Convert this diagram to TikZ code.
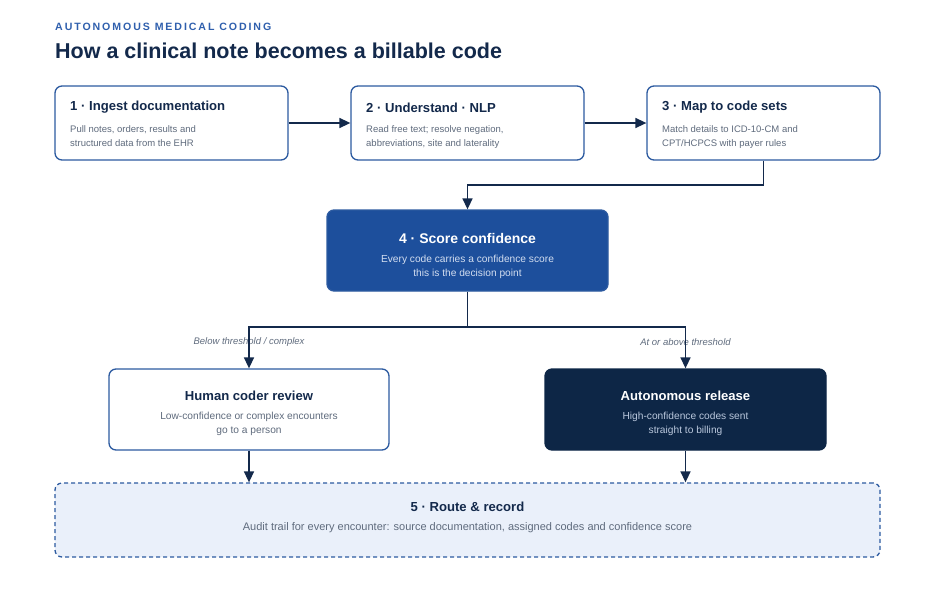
\documentclass[tikz,border=0pt]{standalone}
\usepackage{fontspec}
\setmainfont{Liberation Sans}
\newfontfamily\spacedfont[LetterSpace=18]{Liberation Sans}
\usetikzlibrary{arrows.meta}
\definecolor{bordercol}{HTML}{2C5AA0}
\definecolor{navy}{HTML}{13294B}
\definecolor{descgray}{HTML}{5F6B7D}
\definecolor{kickerblue}{HTML}{2F5FAD}
\definecolor{scorefill}{HTML}{1D4F9C}
\definecolor{scoredesc}{HTML}{D3DEF0}
\definecolor{autofill}{HTML}{0D2646}
\definecolor{autodesc}{HTML}{BAC8DD}
\definecolor{recfill}{HTML}{EAF0FA}
\begin{document}
\begin{tikzpicture}[x=1pt,y=-1pt,
  box/.style={draw=bordercol, line width=1.3pt, rounded corners=7pt, fill=white, inner sep=0pt},
  boxtitle/.style={inner sep=0pt, text=navy, font=\fontsize{13.1}{15}\selectfont\bfseries},
  boxdesc/.style={inner sep=0pt, text=descgray, font=\fontsize{9.5}{14}\selectfont},
  cdesc/.style={inner sep=0pt, text=descgray, font=\fontsize{10.2}{14.5}\selectfont},
  flow/.style={draw=navy, line width=1.5pt, -{Triangle[length=11pt,width=10pt]}},
  plainline/.style={draw=navy, line width=1.5pt},
  branchlabel/.style={inner sep=0pt, text=descgray, font=\fontsize{9.5}{11}\selectfont\itshape}]
\useasboundingbox (0,0) rectangle (936,592);
% headings
\node[anchor=west, inner sep=0pt, text=kickerblue, font=\fontsize{10.6}{12}\spacedfont\bfseries] (kicker) at (55,27) {AUTONOMOUS MEDICAL CODING};
\node[anchor=west, inner sep=0pt, text=navy, font=\fontsize{21.5}{24}\selectfont\bfseries] (headline) at (55,50.5) {How a clinical note becomes a billable code};
% top row
\node[box, minimum width=233pt, minimum height=74pt] (b1) at (171.5,123) {};
\node[box, minimum width=233pt, minimum height=74pt] (b2) at (467.5,123) {};
\node[box, minimum width=233pt, minimum height=74pt] (b3) at (763.5,123) {};
\node[boxtitle, anchor=west] (t1) at (70,107.5) {1 · Ingest documentation};
\node[boxdesc, anchor=north west, align=left] (d1) at (70,125) {Pull notes, orders, results and\\structured data from the EHR};
\node[boxtitle, anchor=west] (t2) at (366,107.5) {2 · Understand · NLP};
\node[boxdesc, anchor=north west, align=left] (d2) at (366,125) {Read free text; resolve negation,\\abbreviations, site and laterality};
\node[boxtitle, anchor=west] (t3) at (662,107.5) {3 · Map to code sets};
\node[boxdesc, anchor=north west, align=left] (d3) at (662,125) {Match details to ICD-10-CM and\\CPT/HCPCS with payer rules};
% score
\node[box, draw=bordercol, fill=scorefill, minimum width=281pt, minimum height=81pt] (b4) at (467.5,250.5) {};
\node[boxtitle, text=white, font=\fontsize{14}{16}\selectfont\bfseries] (t4) at (467.5,238) {4 · Score confidence};
\node[cdesc, text=scoredesc, align=center, anchor=north] (d4) at (467.5,254.5) {Every code carries a confidence score\\this is the decision point};
% branch boxes
\node[box, minimum width=280pt, minimum height=81pt] (hum) at (249,409.5) {};
\node[boxtitle] (th) at (249,395.5) {Human coder review};
\node[cdesc, align=center, anchor=north] (dh) at (249,411.5) {Low-confidence or complex encounters\\go to a person};
\node[box, draw=autofill, fill=autofill, minimum width=281pt, minimum height=81pt] (auto) at (685.5,409.5) {};
\node[boxtitle, text=white] (ta) at (685.5,395.5) {Autonomous release};
\node[cdesc, text=autodesc, align=center, anchor=north] (da) at (685.5,411.5) {High-confidence codes sent\\straight to billing};
% record
\node[box, fill=recfill, dash pattern=on 4pt off 3pt, minimum width=825pt, minimum height=74pt] (b5) at (467.5,520) {};
\node[boxtitle] (t5) at (467.5,506.5) {5 · Route \& record};
\node[cdesc, font=\fontsize{11}{13}\selectfont, anchor=center] (d5) at (467.5,527.5) {Audit trail for every encounter: source documentation, assigned codes and confidence score};
% branch labels
\node[branchlabel] (lb) at (249,342) {Below threshold / complex};
\node[branchlabel] (la) at (685.5,342) {At or above threshold};
% connectors
\draw[flow] (b1.east) -- (b2.west);
\draw[flow] (b2.east) -- (b3.west);
\coordinate (j1) at (763.5,185);
\draw[plainline] (b3.south) -- (j1);
\draw[flow] (j1) -| (b4.north);
\coordinate (j2) at (467.5,327);
\draw[plainline] (b4.south) -- (j2);
\draw[flow] (j2) -| (hum.north);
\draw[flow] (j2) -| (auto.north);
\draw[flow] (hum.south) -- (hum.south |- b5.north);
\draw[flow] (auto.south) -- (auto.south |- b5.north);
\end{tikzpicture}
\end{document}
